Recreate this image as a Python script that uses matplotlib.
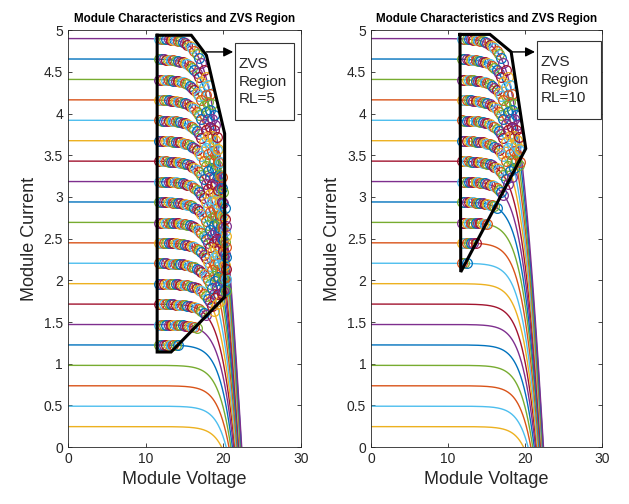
import numpy as np
import matplotlib
matplotlib.use("Agg")
import matplotlib.pyplot as plt
from matplotlib.path import Path

plt.rcParams['font.family'] = ['Liberation Sans', 'DejaVu Sans']

# ---- data ----
isc = [0.245, 0.49, 0.735, 0.98, 1.225, 1.47, 1.715, 1.96, 2.205, 2.45,
       2.695, 2.94, 3.185, 3.43, 3.675, 3.92, 4.165, 4.41, 4.655, 4.9]
voc = [19.8, 20.4, 20.76, 21.0, 21.2, 21.36, 21.5, 21.6, 21.7, 21.8,
       21.9, 21.96, 22.03, 22.1, 22.16, 22.2, 22.26, 22.3, 22.36, 22.4]
knee_a = 1.2      # diode knee width (V)
r_series = 0.4    # series resistance (ohm)

C = {'blue': '#0072BD', 'orange': '#D95319', 'yellow': '#EDB120',
     'purple': '#7E2F8E', 'green': '#77AC30', 'cyan': '#4DBEEE',
     'red': '#A2142F'}
line_colors = ['yellow', 'cyan', 'orange', 'green', 'blue', 'purple', 'red'] * 3
circle_colors = ['blue', 'orange', 'yellow', 'purple', 'green', 'cyan', 'red']

circle_v = [11.8, 12.1, 12.4, 12.7, 13.0, 13.3, 13.6, 13.9, 14.2, 14.5,
            14.8, 15.1, 15.4, 15.7, 16.0, 16.3, 16.6, 16.9, 17.2, 17.5,
            17.8, 18.05, 18.3, 18.55, 18.8, 19.0, 19.2, 19.4, 19.6, 19.8,
            20.0, 20.2, 20.4]

zvs_rl5_v = [11.5, 15.9, 17.85, 20.2, 20.2, 13.3, 11.5, 11.5]
zvs_rl5_i = [4.94, 4.94, 4.70, 3.76, 1.80, 1.14, 1.14, 4.94]
zvs_rl10_v = [11.55, 15.45, 18.2, 20.1, 11.65, 11.55]
zvs_rl10_i = [4.95, 4.95, 4.74, 3.58, 2.10, 4.95]

panels = [
    dict(v=zvs_rl5_v, i=zvs_rl5_i, label='ZVS\nRegion\nRL=5',
         arrow=((17.85, 4.74), (21.3, 4.74)), box=(21.6, 4.85, 29.2, 3.92)),
    dict(v=zvs_rl10_v, i=zvs_rl10_i, label='ZVS\nRegion\nRL=10',
         arrow=((18.2, 4.74), (21.3, 4.74)), box=(21.6, 4.87, 29.9, 3.94)),
]


def current_at(v, Isc, Voc):
    v = np.asarray(v, dtype=float)
    lo = np.zeros_like(v)
    hi = np.full_like(v, Isc)
    for _ in range(60):
        mid = 0.5 * (lo + hi)
        f = Isc * (1 - np.exp((v + mid * r_series - Voc) / knee_a)) - mid
        lo = np.where(f > 0, mid, lo)
        hi = np.where(f > 0, hi, mid)
    return 0.5 * (lo + hi)


fig = plt.figure(figsize=(6.29, 5.04), dpi=100)
axes_pos = [[0.108, 0.113, 0.370, 0.827], [0.590, 0.113, 0.367, 0.827]]

for pos, p in zip(axes_pos, panels):
    ax = fig.add_axes(pos)
    ax.set_xlim(0, 30)
    ax.set_ylim(0, 5)
    # IV curves
    for k, (Isc, Voc) in enumerate(zip(isc, voc)):
        vv = np.linspace(0, Voc, 400)
        ii = current_at(vv, Isc, Voc)
        ax.plot(vv, ii, color=C[line_colors[k]], lw=1.0, zorder=2)
    # circles within ZVS region
    fig.canvas.draw()
    poly_disp = ax.transData.transform(np.column_stack([p['v'], p['i']]))
    path = Path(poly_disp)
    for k, (Isc, Voc) in enumerate(zip(isc, voc)):
        ci = current_at(circle_v, Isc, Voc)
        pts = ax.transData.transform(np.column_stack([circle_v, ci]))
        inside = path.contains_points(pts, radius=-4) | path.contains_points(pts, radius=4)
        for j, (cv, cc) in enumerate(zip(circle_v, ci)):
            if inside[j]:
                ax.plot(cv, cc, 'o', ms=7, mfc='none', mew=0.9,
                        color=C[circle_colors[(j * 3 + k) % 7]], zorder=3)
    # boundary
    ax.plot(p['v'], p['i'], color='black', lw=2.2, zorder=4,
            solid_joinstyle='miter')
    # arrow
    (x0, y0), (x1, y1) = p['arrow']
    ax.annotate('', xy=(x1, y1), xytext=(x0, y0),
                arrowprops=dict(arrowstyle='-|>', color='black', lw=1.0,
                                mutation_scale=14, shrinkA=0, shrinkB=0),
                zorder=5)
    bx0, by0, bx1, by1 = p['box']
    ax.add_patch(plt.Rectangle((bx0, by1), bx1 - bx0, by0 - by1,
                               facecolor='white', edgecolor='#333333',
                               lw=0.8, zorder=5))
    ax.text(bx0 + 0.4, (by0 + by1) / 2, p['label'], fontsize=11,
            va='center', ha='left', zorder=6, linespacing=1.35,
            color='#262626')

    ax.set_xticks([0, 10, 20, 30])
    ax.set_yticks(np.arange(0, 5.01, 0.5))
    ax.set_yticklabels(['0', '0.5', '1', '1.5', '2', '2.5', '3', '3.5',
                        '4', '4.5', '5'])
    ax.tick_params(direction='in', top=True, right=True, labelsize=10,
                   length=3, width=0.6, colors='#262626')
    for s in ax.spines.values():
        s.set_linewidth(0.6)
        s.set_color('#262626')
    ax.set_xlabel('Module Voltage', fontsize=13, color='#262626', labelpad=4)
    ax.set_ylabel('Module Current', fontsize=13, color='#262626', labelpad=4)
    ax.set_title('Module Characteristics and ZVS Region', fontsize=8.4,
                 fontweight='bold', pad=6)

fig.savefig('out.png', dpi=100)
